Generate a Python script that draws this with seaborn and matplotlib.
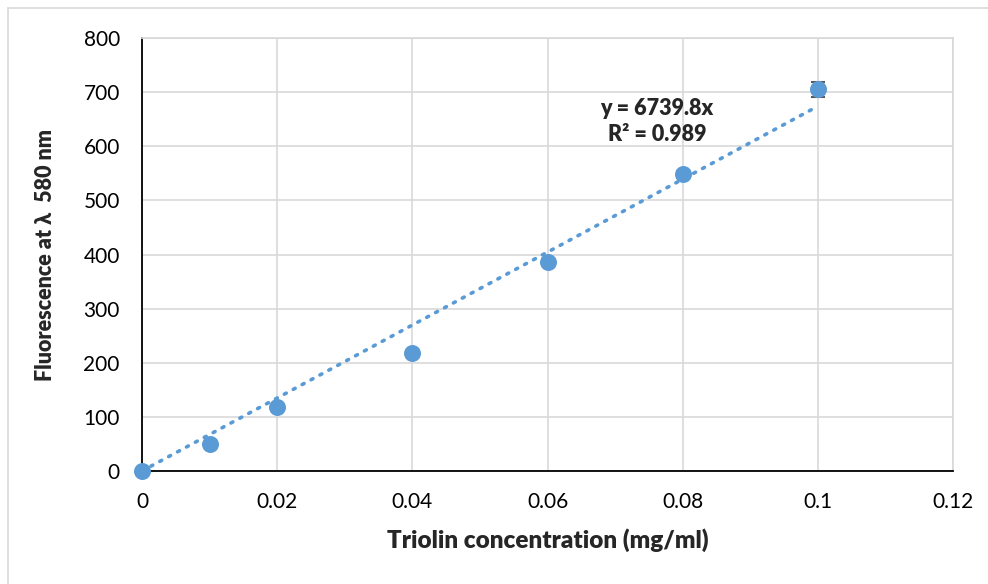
import numpy as np
import pandas as pd
import matplotlib
matplotlib.use('Agg')
import matplotlib.pyplot as plt
import seaborn as sns

# data
conc = [0, 0.01, 0.02, 0.04, 0.06, 0.08, 0.1]
fluor = [0, 49, 118, 218, 386, 548, 705]
err = [2, 3, 3, 3, 5, 7, 14]
slope = 6739.8
r2 = 0.989

df = pd.DataFrame({'conc': conc, 'fluor': fluor, 'err': err})

sns.set_theme(style='white')
plt.rcParams['font.family'] = ['Lato', 'DejaVu Sans']

blue = '#5B9BD5'
fig = plt.figure(figsize=(9.88, 5.84), dpi=100)
ax = fig.add_axes([0.1437, 0.1935, 0.8209, 0.7414])

# trendline through origin
xt = np.array([0, max(conc)])
ax.plot(xt, slope * xt, color=blue, lw=2.6, linestyle=(0, (0.6, 2.2)),
        dash_capstyle='round', zorder=2)

ax.errorbar(df['conc'], df['fluor'], yerr=df['err'], fmt='none',
            ecolor='#595959', elinewidth=1, capsize=5, capthick=1.5, zorder=3)
sns.scatterplot(data=df, x='conc', y='fluor', ax=ax, s=150, color=blue,
                edgecolor=blue, linewidth=0, zorder=4, clip_on=False)

ax.set_xlim(0, 0.12)
ax.set_ylim(0, 800)
ax.set_xticks(np.arange(0, 0.121, 0.02))
ax.set_xticklabels(['0', '0.02', '0.04', '0.06', '0.08', '0.1', '0.12'])
ax.set_yticks(range(0, 801, 100))
ax.grid(True, color='#D9D9D9', lw=1.2)
ax.set_axisbelow(True)
for s in ['top', 'right']:
    ax.spines[s].set_color('#D9D9D9')
for s in ['left', 'bottom']:
    ax.spines[s].set_color('black')
    ax.spines[s].set_linewidth(1.3)
ax.tick_params(axis='both', labelsize=15, length=0, colors='black')
ax.tick_params(axis='y', pad=16)
ax.tick_params(axis='x', pad=15)

ax.set_xlabel('Triolin concentration (mg/ml)', fontsize=17.5, fontweight='heavy', labelpad=12)
ax.set_ylabel('Fluorescence at λ  580 nm', fontsize=15.5, fontweight='heavy', labelpad=20)

ax.text(0.0762, 646, f'y = {slope}x\nR² = {r2}', fontsize=15.5, fontweight='heavy',
        ha='center', va='center', linespacing=1.3)

# outer chart border
fig.add_artist(plt.Line2D([0.008, 1], [0.986, 0.986], color='#D9D9D9', lw=1.2,
                          transform=fig.transFigure))
fig.add_artist(plt.Line2D([0.008, 0.008], [0, 0.986], color='#D9D9D9', lw=1.2,
                          transform=fig.transFigure))

fig.savefig('out.png', dpi=100)
